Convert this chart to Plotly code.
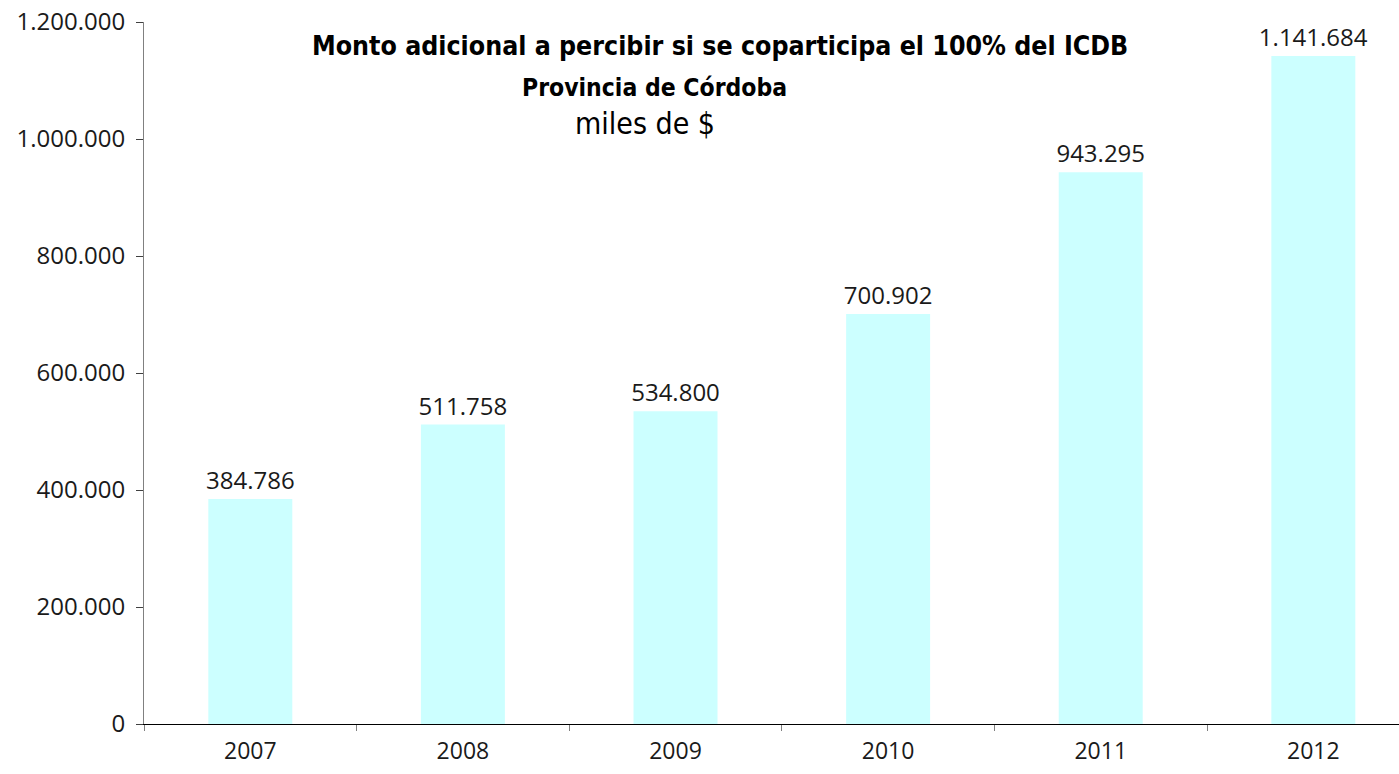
import plotly.graph_objects as go

anios = ['2007', '2008', '2009', '2010', '2011', '2012']
montos = [384786, 511758, 534800, 700902, 943295, 1141684]
y_ticks = [0, 200000, 400000, 600000, 800000, 1000000, 1200000]

fuente = "Open Sans, Roboto, sans-serif"
fuente_titulo = "DejaVu Sans Condensed, Liberation Sans, sans-serif"

fig = go.Figure()
fig.add_trace(go.Bar(
    x=anios, y=montos,
    marker=dict(color='#CCFFFF', line=dict(width=0)),
    width=0.395,
    text=montos, texttemplate='%{y:,.0f}', textposition='outside',
    constraintext='none',
    textfont=dict(family=fuente, size=24, color='#1a1a1a'),
    cliponaxis=False,
))

fig.update_layout(
    width=1399, height=774,
    margin=dict(l=144, r=0, t=22, b=50, autoexpand=False),
    paper_bgcolor='white', plot_bgcolor='white',
    separators=',.',
    showlegend=False,
    font=dict(family=fuente, size=24, color='#1a1a1a'),
)
fig.update_xaxes(
    type='category', range=[-0.5, 5.403],
    showline=True, linecolor='black', linewidth=1,
    ticks='outside', tickson='boundaries', ticklen=6, tickcolor='#808080',
    ticklabelstandoff=6,
    showgrid=False, tickfont=dict(size=23), automargin=False,
)
fig.update_yaxes(
    range=[0, 1200000], tickvals=y_ticks, tickformat=',.0f',
    showline=True, linecolor='#808080', linewidth=1,
    ticks='outside', ticklen=7, tickcolor='#404040',
    ticklabelstandoff=6, ticklabeloverflow='allow', automargin=False,
    showgrid=False, zeroline=False, tickfont=dict(size=24),
)

titulos = [
    ("<b>Monto adicional a percibir si se coparticipa el 100% del ICDB</b>", 0.459, 0.967, 26.5),
    ("<b>Provincia de Córdoba</b>", 0.407, 0.906, 24.5),
    ("miles de $", 0.399, 0.856, 30),
]
for texto, xp, yp, tam in titulos:
    fig.add_annotation(text=texto, x=xp, y=yp, xref='paper', yref='paper',
                       showarrow=False, xanchor='center', yanchor='middle',
                       font=dict(family=fuente_titulo, size=tam, color='black'))

# quitar el margen por defecto del body para que el grafico ocupe la ventana
fig.write_html("out.html", config={'displayModeBar': False},
               post_script="document.body.style.margin='0';")
